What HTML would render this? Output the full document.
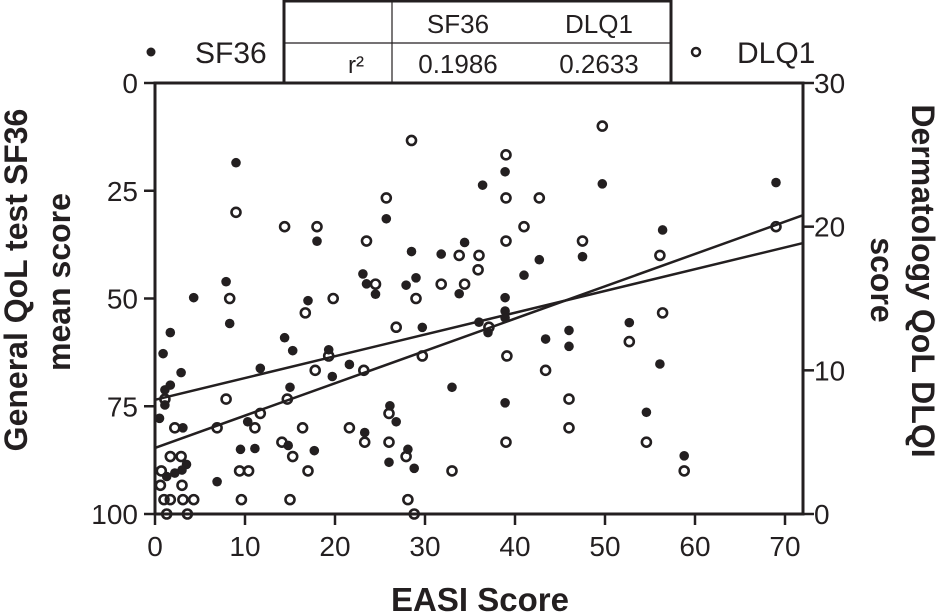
<!DOCTYPE html>
<html><head><meta charset="utf-8"><style>
html,body{margin:0;padding:0;background:#fff;}
svg{display:block;font-family:"Liberation Sans",Arial,sans-serif;}
</style></head><body>
<svg id="chart" width="941" height="613" viewBox="0 0 941 613" xmlns="http://www.w3.org/2000/svg">
<g id="frame"></g>
<g id="marks"></g>
<g>
  <rect x="284" y="1" width="387" height="82" fill="#fff" stroke="#231f20" stroke-width="3"/>
  <line x1="284" y1="43" x2="671" y2="43" stroke="#231f20" stroke-width="1.2"/>
  <line x1="392" y1="1" x2="392" y2="83" stroke="#231f20" stroke-width="1.2"/>
  <text x="458" y="33" font-size="26" text-anchor="middle" fill="#231f20">SF36</text>
  <text x="599" y="33" font-size="26" text-anchor="middle" fill="#231f20">DLQ1</text>
  <text x="364" y="73" font-size="24" text-anchor="end" fill="#231f20">r²</text>
  <text x="458" y="73" font-size="26" text-anchor="middle" fill="#231f20">0.1986</text>
  <text x="599" y="73" font-size="26" text-anchor="middle" fill="#231f20">0.2633</text>
</g>
<g>
  <circle cx="151" cy="52" r="4.5" fill="#231f20"/>
  <text x="195" y="63" font-size="30" fill="#231f20">SF36</text>
</g>
<g>
  <circle cx="696" cy="52" r="4" fill="none" stroke="#231f20" stroke-width="2.5"/>
  <text x="737" y="63" font-size="30" fill="#231f20">DLQ1</text>
</g>
<text x="480" y="611" font-size="33" font-weight="bold" text-anchor="middle" fill="#231f20">EASI Score</text>
<text transform="translate(27,280) rotate(-90)" font-size="32" font-weight="bold" text-anchor="middle" fill="#231f20">General QoL test SF36</text>
<text transform="translate(70,282) rotate(-90)" font-size="32" font-weight="bold" text-anchor="middle" fill="#231f20">mean score</text>
<text transform="translate(912,281) rotate(90)" font-size="32" font-weight="bold" text-anchor="middle" fill="#231f20">Dermatology QoL DLQI</text>
<text transform="translate(871,280) rotate(90)" font-size="32" font-weight="bold" text-anchor="middle" fill="#231f20">score</text>
</svg>
<script>
const xTicks = [0,10,20,30,40,50,60,70];
const leftTicks = [0,25,50,75,100];
const rightTicks = [0,10,20,30];
const sfX = [9.0,25.7,18.0,28.5,31.8,34.4,7.9,23.1,23.5,24.5,27.9,29.0,33.8,4.3,17.0,8.3,29.7,36.0,1.7,14.4,15.3,19.3,0.9,11.7,21.6,19.7,2.9,15.0,33.0,1.7,1.1,1.1,26.1,0.5,3.1,10.3,26.8,23.3,9.5,11.1,17.7,28.1,26.0,28.8,3.5,3.0,2.2,1.3,6.9,14.8,38.9,36.4,49.7,69.0,42.7,47.5,41.0,56.4,38.9,38.9,38.9,37.0,52.7,43.4,46.0,46.0,56.1,38.9,54.6,58.8];
const sfY = [18.5,31.5,36.7,39.1,39.7,37.0,46.1,44.3,46.6,49.0,46.9,45.2,48.9,49.8,50.5,55.8,56.7,55.5,57.9,59.1,62.1,61.9,62.8,66.2,65.3,68.1,67.2,70.6,70.6,70.1,71.2,74.7,74.9,77.8,80.0,78.6,78.6,81.1,85.0,84.8,85.3,85.0,88.0,89.4,88.5,89.8,90.5,91.3,92.5,84.1,20.6,23.7,23.4,23.1,41.0,40.3,44.6,34.1,49.8,52.9,54.5,57.9,55.6,59.4,57.4,61.1,65.2,74.2,76.4,86.5];
const dlX = [28.5,25.7,9.0,14.4,18.0,23.5,33.8,36.0,35.9,24.5,31.8,34.4,8.3,19.8,29.0,16.7,26.8,19.3,29.7,17.8,23.2,1.1,7.9,14.7,11.7,26.0,2.2,6.9,11.1,16.4,21.6,14.1,23.3,26.0,1.7,2.9,15.3,27.9,0.7,9.4,10.4,17.0,33.0,0.6,3.0,1.0,1.7,3.1,4.3,9.6,15.0,28.1,1.3,3.6,28.8,49.7,39.0,39.0,42.7,41.0,69.0,39.0,47.5,56.1,56.4,37.1,52.7,39.1,43.4,46.0,46.0,39.0,54.6,58.8];
const dlY = [26,22,21,20,20,19,18,18,17,16,16,16,15,15,15,14,13,11,11,10,10,8,8,8,7,7,6,6,6,6,6,5,5,5,4,4,4,4,3,3,3,3,3,2,2,1,1,1,1,1,1,1,0,0,0,27,25,22,22,20,20,19,19,18,14,13,12,11,10,8,6,5,5,3];
const sfFit = [73.5, -0.505];
const dlFit = [4.6, 0.225];
const xMaxData = 72;

const NS = "http://www.w3.org/2000/svg";
const X0=155, X1=803, YT=83, YB=514, PXU=9.0;
function xs(v){return X0+v*PXU;}
function yl(v){return YT+v*(YB-YT)/100;}
function yr(v){return YB-v*(YB-YT)/30;}
function mk(tag, attrs, parent){const e=document.createElementNS(NS,tag);for(const k in attrs)e.setAttribute(k,attrs[k]);parent.appendChild(e);return e;}
const frame=document.getElementById('frame'), marks=document.getElementById('marks');
const C="#231f20";
let ax=mk('line',{x1:X0,y1:YT,x2:X0,y2:YB+1.5,stroke:C,'stroke-width':3},frame);


ax=mk('line',{x1:X1,y1:YT,x2:X1,y2:YB+1.5,stroke:C,'stroke-width':3},frame);


ax=mk('line',{x1:X0-1.5,y1:YB,x2:X1+1.5,y2:YB,stroke:C,'stroke-width':3},frame);


ax=mk('line',{x1:X0-1.5,y1:YT,x2:X1+1.5,y2:YT,stroke:C,'stroke-width':3},frame);


xTicks.forEach(t=>{
  const tk=mk('line',{x1:xs(t),y1:YB,x2:xs(t),y2:YB+11,stroke:C,'stroke-width':2.5},frame);
  
  
  const tx=mk('text',{x:xs(t),y:YB+42,'font-size':28,'text-anchor':'middle',fill:C},frame);
  tx.textContent=t;
  
  
});
leftTicks.forEach(t=>{
  const tk=mk('line',{x1:X0-11,y1:yl(t),x2:X0,y2:yl(t),stroke:C,'stroke-width':2.5},frame);
  
  
  const tx=mk('text',{x:138,y:yl(t)+10,'font-size':28,'text-anchor':'end',fill:C},frame);
  tx.textContent=t;
  
  
});
rightTicks.forEach(t=>{
  const tk=mk('line',{x1:X1,y1:yr(t),x2:X1+11,y2:yr(t),stroke:C,'stroke-width':2.5},frame);
  
  
  const tx=mk('text',{x:814,y:yr(t)+10,'font-size':28,'text-anchor':'start',fill:C},frame);
  tx.textContent=t;
  
  
});
let ln=mk('line',{x1:xs(0),y1:yl(sfFit[0]),x2:xs(xMaxData),y2:yl(sfFit[0]+sfFit[1]*xMaxData),stroke:C,'stroke-width':2.5},marks);


ln=mk('line',{x1:xs(0),y1:yr(dlFit[0]),x2:xs(xMaxData),y2:yr(dlFit[0]+dlFit[1]*xMaxData),stroke:C,'stroke-width':2.5},marks);


sfX.forEach((x,i)=>{
  const c=mk('circle',{cx:xs(x),cy:yl(sfY[i]),r:4.8,fill:C},marks);
  
  
});
dlX.forEach((x,i)=>{
  const c=mk('circle',{cx:xs(x),cy:yr(dlY[i]),r:4.5,fill:'none',stroke:C,'stroke-width':2.6},marks);
  
  
});
</script>
</body></html>
